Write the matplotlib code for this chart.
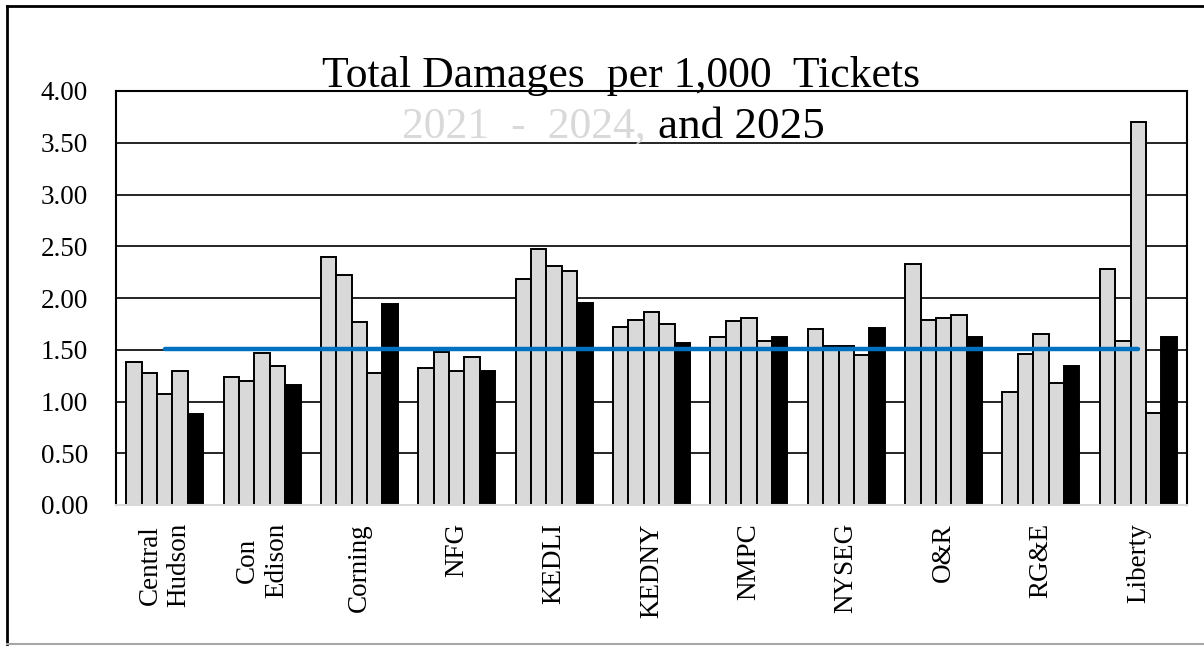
import numpy as np
import matplotlib
matplotlib.use("Agg")
import matplotlib.pyplot as plt
from matplotlib.lines import Line2D

plt.rcParams['font.family'] = ['Liberation Serif', 'DejaVu Serif']

companies = ["Central\nHudson", "Con\nEdison", "Corning", "NFG", "KEDLI", "KEDNY",
             "NMPC", "NYSEG", "O&R", "RG&E", "Liberty"]

# damages per 1,000 tickets
y2021 = [1.38, 1.24, 2.40, 1.32, 2.18, 1.72, 1.62, 1.70, 2.33, 1.09, 2.28]
y2022 = [1.28, 1.20, 2.22, 1.48, 2.47, 1.79, 1.78, 1.54, 1.79, 1.46, 1.58]
y2023 = [1.07, 1.47, 1.77, 1.29, 2.31, 1.86, 1.81, 1.54, 1.81, 1.65, 3.70]
y2024 = [1.29, 1.34, 1.28, 1.43, 2.26, 1.75, 1.58, 1.45, 1.84, 1.18, 0.89]
y2025 = [0.88, 1.16, 1.94, 1.29, 1.95, 1.57, 1.62, 1.71, 1.62, 1.34, 1.62]
average = [1.51, 1.51, 1.51, 1.51, 1.51, 1.51, 1.51, 1.51, 1.51, 1.51, 1.51]

series = [y2021, y2022, y2023, y2024, y2025]
fills = ["#D9D9D9", "#D9D9D9", "#D9D9D9", "#D9D9D9", "black"]

fig = plt.figure(figsize=(12.04, 6.46), dpi=100)
ax = fig.add_axes([116/1204, 1 - 505/646, (1187-116)/1204, (505-91)/646])

x = np.arange(len(companies))
w = 0.158
for j, vals in enumerate(series):
    ax.bar(x + (j - 2) * w, vals, width=w, color=fills[j], edgecolor="black",
           linewidth=1.4, zorder=2)

ax.plot(x, average, color="#0070C0", linewidth=3.2, solid_capstyle="round", zorder=3)

ax.set_xlim(-0.5, len(companies) - 0.5)
ax.set_ylim(0, 4)
ax.set_yticks(np.arange(0, 4.01, 0.5))
ax.set_yticklabels(["%.2f" % v for v in np.arange(0, 4.01, 0.5)], fontsize=19.5)
ax.yaxis.grid(True, color="black", linewidth=1.2, zorder=0)
ax.set_axisbelow(True)
ax.tick_params(axis="y", length=0, pad=20)
ax.tick_params(axis="x", length=0, pad=13)
ax.set_xticks(x)
ax.set_xticklabels(companies, rotation=90, fontsize=19.5, va="top", ha="center",
                   multialignment="center", linespacing=1.2)

for s in ["left", "right", "top"]:
    ax.spines[s].set_color("black")
    ax.spines[s].set_linewidth(1.5)
ax.spines["bottom"].set_color("#D9D9D9")
ax.spines["bottom"].set_linewidth(1.5)

# title, written inside the chart like in the original
fig.text(621/1204, 1 - 87/646, "Total Damages  per 1,000  Tickets", fontsize=31.5,
         ha="center", va="baseline")
fig.text(646/1204, 1 - 138/646, "2021  -  2024,", fontsize=31.5, color="#D9D9D9",
         ha="right", va="baseline")
fig.text(658/1204, 1 - 138/646, "and 2025", fontsize=32.5, color="black",
         ha="left", va="baseline")

# outer frame
fig.add_artist(Line2D([7/1204, 7/1204], [1 - 644/646, 1 - 6/646], color="black",
                      linewidth=2, transform=fig.transFigure))
fig.add_artist(Line2D([7/1204, 1.0], [1 - 6/646, 1 - 6/646], color="black",
                      linewidth=2, transform=fig.transFigure))
fig.add_artist(Line2D([7/1204, 1.0], [1 - 644/646, 1 - 644/646], color="#A6A6A6",
                      linewidth=1.5, transform=fig.transFigure))

fig.savefig("out.png", dpi=100)
